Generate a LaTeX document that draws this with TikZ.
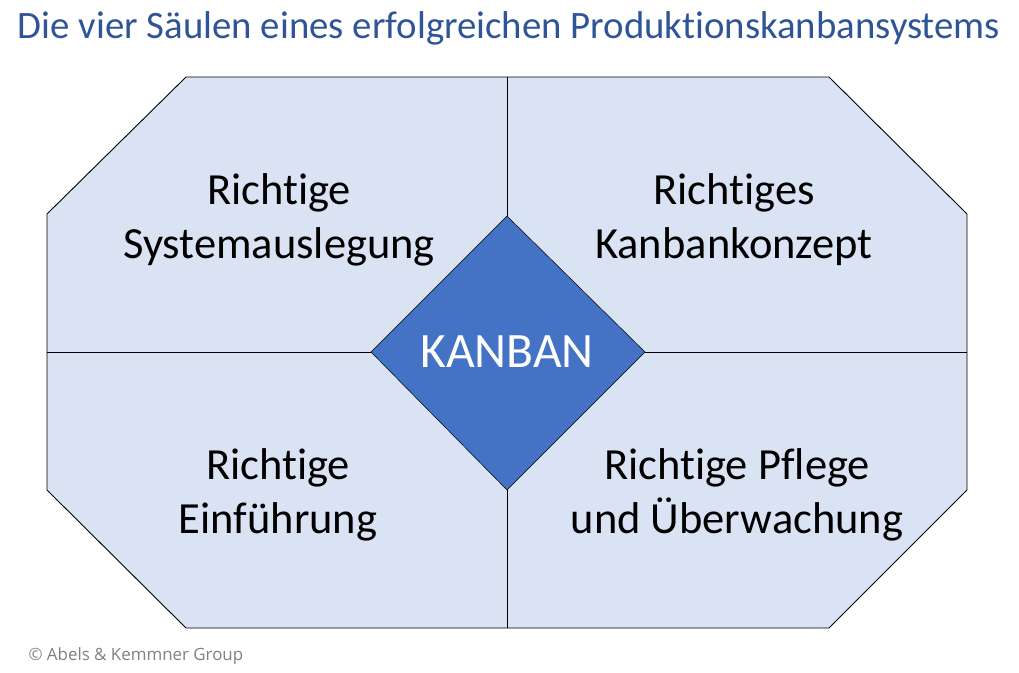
\documentclass[tikz,border=0pt]{standalone}
\usepackage{fontspec}
\setmainfont[RawFeature=-liga]{Carlito}
\newfontfamily\copyfont{Open Sans}
\definecolor{titleblue}{HTML}{2F5597}
\definecolor{lightfill}{HTML}{DAE3F3}
\definecolor{kanbanblue}{HTML}{4472C4}
\definecolor{copygray}{HTML}{808080}
\begin{document}
\begin{tikzpicture}[x=1pt,y=-1pt,
  field/.style={font=\fontsize{44.5}{54}\selectfont, align=center, text=black},
  sep/.style={draw=black, line width=0.9pt}]
\useasboundingbox (0,0) rectangle (1019,672);
\node[text=titleblue, font=\fontsize{38.8}{44}\selectfont] (title) at (509,28) {Die vier Säulen eines erfolgreichen Produktionskanbansystems};
\draw[sep, fill=lightfill] (186,77) -- (829,77) -- (967,214) -- (967,490) -- (829,628) -- (186,628) -- (47,490) -- (47,214) -- cycle;
\coordinate (top) at (507,77);
\coordinate (bot) at (507,628);
\coordinate (lft) at (47,352);
\coordinate (rgt) at (967,352);
\coordinate (dt) at (507,216);
\coordinate (db) at (507,490);
\coordinate (dl) at (371,352);
\coordinate (dr) at (645,352);
\draw[sep] (top) -- (dt);
\draw[sep] (db) -- (bot);
\draw[sep] (lft) -- (dl);
\draw[sep] (dr) -- (rgt);
\draw[draw=black, line width=0.5pt, fill=kanbanblue] (dt) -- (dr) -- (db) -- (dl) -- cycle;
\node[text=white, font=\fontsize{49.5}{56}\selectfont] (kanban) at (507,352) {KANBAN};
\node[field] (tl) at (279,220) {Richtige\\Systemauslegung};
\node[field] (tr) at (734,220) {Richtiges\\Kanbankonzept};
\node[field] (bl) at (278,495) {Richtige\\Einführung};
\node[field] (br) at (737,495) {Richtige Pflege\\und Überwachung};
\node[text=copygray, font=\copyfont\fontsize{16.9}{19}\selectfont, anchor=west] (copy) at (25,656) {© Abels \& Kemmner Group};
\end{tikzpicture}
\end{document}
